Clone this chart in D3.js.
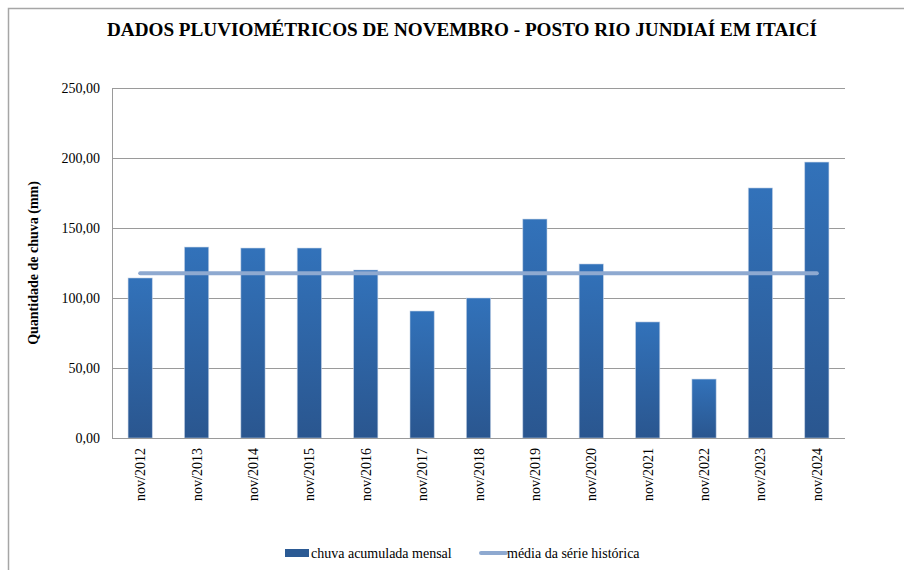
<!DOCTYPE html>
<html>
<head>
<meta charset="utf-8">
<script src="https://cdn.jsdelivr.net/npm/d3@7"></script>
<style>
  body { margin: 0; background: #fff; }
</style>
</head>
<body>
<div id="chart"></div>
<script>
// data
var categories = ["nov/2012", "nov/2013", "nov/2014", "nov/2015", "nov/2016", "nov/2017", "nov/2018",
    "nov/2019", "nov/2020", "nov/2021", "nov/2022", "nov/2023", "nov/2024"];
var rainfall = [114.3, 136.4, 135.7, 135.7, 120.0, 90.7, 100.0, 156.4, 124.3, 82.9, 42.1, 178.6, 197.1];
var historicMean = [117.6, 117.6, 117.6, 117.6, 117.6, 117.6, 117.6, 117.6, 117.6, 117.6, 117.6, 117.6, 117.6];
var yTicks = [0, 50, 100, 150, 200, 250];
var titleText = "DADOS PLUVIOMÉTRICOS DE NOVEMBRO - POSTO RIO JUNDIAÍ EM ITAICÍ";
var yLabel = "Quantidade de chuva (mm)";
var legendLabels = ["chuva acumulada mensal", "média da série histórica"];

var SERIF = "'Liberation Serif', Tinos, 'Times New Roman', Times, 'DejaVu Serif', serif";

var W = 904, H = 570;
var margin = {left: 112, right: 59, top: 88, bottom: 132},
    width = W - margin.left - margin.right,
    height = H - margin.top - margin.bottom;

var svg = d3.select("#chart")
    .append("svg")
    .attr("width", W)
    .attr("height", H)
    .style("font-family", SERIF);

var defs = svg.append("defs");
var grad = defs.append("linearGradient")
    .attr("id", "barGrad")
    .attr("x1", 0).attr("y1", 0).attr("x2", 0).attr("y2", 1);
grad.append("stop").attr("offset", "0%").attr("stop-color", "#3272ba");
grad.append("stop").attr("offset", "100%").attr("stop-color", "#2a568f");

// outer frame (left + top only, as in the reference)
svg.append("path")
    .attr("d", "M8.5," + H + "V8.5H" + W)
    .attr("fill", "none")
    .attr("stroke", "#a6a6a6")
    .attr("stroke-width", 1.5);

// title
svg.append("text")
    .attr("x", 462)
    .attr("y", 36)
    .attr("text-anchor", "middle")
    .attr("font-weight", "bold")
    .attr("font-size", 19)
    .attr("textLength", 710)
    .attr("lengthAdjust", "spacingAndGlyphs")
    .style("font-family", SERIF)
    .text(titleText);

var g = svg.append("g")
    .attr("transform", "translate(" + margin.left + "," + margin.top + ")");

var x = d3.scaleBand()
    .domain(categories)
    .range([0, width])
    .paddingInner(0.57)
    .paddingOuter(0.285);

var y = d3.scaleLinear()
    .domain([0, 250])
    .range([height, 0]);

// gridlines + y labels
var yAxis = g.append("g")
    .call(d3.axisLeft(y).tickValues(yTicks).tickSize(-width).tickPadding(12)
        .tickFormat(function (d) { return d3.format(".2f")(d).replace(".", ","); }));
yAxis.attr("font-family", null).attr("font-size", null);
yAxis.select(".domain").remove();
yAxis.selectAll(".tick line").attr("stroke", "#9a9a9a").attr("stroke-width", 1);
yAxis.selectAll(".tick text")
    .style("font-family", SERIF)
    .attr("font-size", 14)
    .attr("fill", "#000");

// bars
g.selectAll(".bar")
    .data(rainfall)
    .enter().append("rect")
    .attr("class", "bar")
    .attr("x", function (d, i) { return x(categories[i]); })
    .attr("y", function (d) { return y(d); })
    .attr("width", x.bandwidth())
    .attr("height", function (d) { return height - y(d); })
    .attr("fill", "url(#barGrad)")
    .attr("stroke", "#c9d6e8")
    .attr("stroke-width", 0.8)
    .attr("stroke-opacity", 0.7);

// axis lines
g.append("line")
    .attr("x1", 0.5).attr("x2", 0.5).attr("y1", 0).attr("y2", height)
    .attr("stroke", "#9a9a9a");
g.append("line")
    .attr("x1", 0).attr("x2", width).attr("y1", height + 0.5).attr("y2", height + 0.5)
    .attr("stroke", "#9a9a9a");

// historic mean line
var line = d3.line()
    .x(function (d, i) { return x(categories[i]) + x.bandwidth() / 2; })
    .y(function (d) { return y(d); });

g.append("path")
    .datum(historicMean)
    .attr("d", line)
    .attr("fill", "none")
    .attr("stroke", "#8ea9d0")
    .attr("stroke-width", 4)
    .attr("stroke-linecap", "round");

// x labels
g.selectAll(".xlab")
    .data(categories)
    .enter().append("text")
    .attr("class", "xlab")
    .attr("transform", function (d) {
        return "translate(" + (x(d) + x.bandwidth() / 2 + 5) + "," + (height + 10) + ") rotate(-90)";
    })
    .attr("text-anchor", "end")
    .attr("font-size", 14)
    .style("font-family", SERIF)
    .text(function (d) { return d; });

// y axis title
svg.append("text")
    .attr("transform", "translate(38,263) rotate(-90)")
    .attr("text-anchor", "middle")
    .attr("font-weight", "bold")
    .attr("font-size", 14)
    .style("font-family", SERIF)
    .text(yLabel);

// legend
var leg = svg.append("g").attr("transform", "translate(285,553)");
leg.append("rect")
    .attr("x", 0).attr("y", -4)
    .attr("width", 24).attr("height", 8)
    .attr("fill", "#2b5a94");
leg.append("text")
    .attr("x", 26).attr("y", 5)
    .attr("font-size", 14)
    .style("font-family", SERIF)
    .text(legendLabels[0]);
leg.append("line")
    .attr("x1", 196).attr("x2", 221).attr("y1", 0).attr("y2", 0)
    .attr("stroke", "#8ea9d0")
    .attr("stroke-width", 4)
    .attr("stroke-linecap", "round");
leg.append("text")
    .attr("x", 222).attr("y", 5)
    .attr("font-size", 14)
    .style("font-family", SERIF)
    .text(legendLabels[1]);
</script>
</body>
</html>
